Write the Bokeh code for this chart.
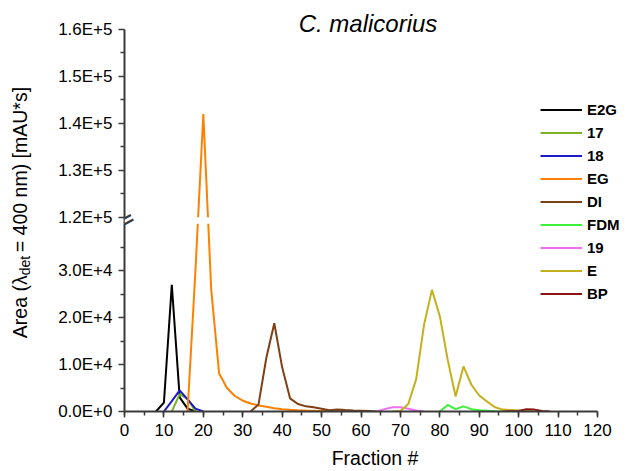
import math
from bokeh.plotting import figure
from bokeh.layouts import row
from bokeh.models import (Range1d, FixedTicker, SingleIntervalTicker, CustomJSTickFormatter,
                          CustomJSTransform, ColumnDataSource, Legend, LegendItem, Label,
                          BoxAnnotation)
from bokeh.transform import transform
from bokeh.embed import file_html
from bokeh.resources import INLINE

# ---------------- data ----------------
TITLE = "C. malicorius"
X_LABEL = "Fraction #"
Y_LABEL_PARTS = ["Area (\u03bb", "det", " = 400 nm) [mAU*s]"]

E2G_X = [8, 10, 12, 14, 16, 18]
E2G_Y = [0, 1900, 27000, 3000, 600, 0]

S17_X = [12, 14, 16, 18]
S17_Y = [0, 3700, 2700, 0]

S18_X = [10, 12, 14, 16, 18, 20]
S18_Y = [0, 2200, 4500, 2600, 600, 0]

EG_X = [16, 18, 20, 22, 24, 26, 28, 30, 32, 34, 36, 38, 40, 42, 44, 46, 48, 50, 52, 54, 56, 58]
EG_Y = [0, 30000, 142000, 26000, 8100, 5000, 3300, 2300, 1700, 1300, 1000, 700, 500, 380,
        280, 200, 150, 100, 80, 50, 30, 0]

DI_X = [32, 34, 36, 38, 40, 42, 44, 46, 48, 50, 52, 54, 56, 58, 60, 62, 64]
DI_Y = [0, 1500, 11500, 18800, 9400, 2800, 1600, 1100, 900, 600, 250, 450, 300, 200, 150, 100, 0]

FDM_X = [80, 82, 84, 86, 88, 90, 92, 94, 96]
FDM_Y = [0, 1400, 500, 1100, 500, 250, 150, 50, 0]

S19_X = [64, 66, 68, 70, 72, 74, 76]
S19_Y = [0, 500, 900, 900, 600, 200, 0]

E_X = [68, 70, 72, 74, 76, 78, 80, 82, 84, 86, 88, 90, 92, 94, 96, 98, 100, 102, 104]
E_Y = [0, 100, 1600, 6900, 18500, 25900, 20300, 11000, 3200, 9600, 5700, 3400, 2100, 900,
       400, 300, 200, 100, 0]

BP_X = [96, 98, 100, 102, 104, 106, 108]
BP_Y = [0, 50, 100, 500, 400, 100, 0]

SERIES_NAMES = ["E2G", "17", "18", "EG", "DI", "FDM", "19", "E", "BP"]
SERIES_COLORS = ["#000000", "#7db228", "#1a1ac8", "#ff8000", "#7f4016", "#3cf03c",
                 "#ee70ee", "#c4b01c", "#8c1414"]

Y_TICK_VALUES = [0, 10000, 20000, 30000, 120000, 130000, 140000, 150000, 160000]
Y_TICK_LABELS = ["0.0E+0", "1.0E+4", "2.0E+4", "3.0E+4", "1.2E+5", "1.3E+5", "1.4E+5",
                 "1.5E+5", "1.6E+5"]
Y_MINOR_VALUES = [5000, 15000, 25000, 35000, 125000, 135000, 145000, 155000]

# axis break
BREAK_LO = 40000
BREAK_HI = 120000
BREAK_GAP = 1340
Y_TOP = 160000
X_MIN, X_MAX = 0, 120


def brk(v):
    if v <= BREAK_LO:
        return v
    if v >= BREAK_HI:
        return v - BREAK_HI + BREAK_LO + BREAK_GAP
    return BREAK_LO + (v - BREAK_LO) * BREAK_GAP / (BREAK_HI - BREAK_LO)


FONT = "Liberation Sans"
AXIS_COLOR = "#3a3a3a"

# ---------------- layout geometry ----------------
LABEL_W = 40            # width of the strip that carries the y-axis title
TOTAL_W, TOTAL_H = 625, 471
FRAME_LEFT = 124        # px from page left
AXIS_RIGHT = 597        # px where x = 120
AXIS_TOP = 29           # px where y = 1.6E+5
AXIS_BOTTOM = 411       # px where y = 0
BOTTOM_BORDER = TOTAL_H - AXIS_BOTTOM

x_per_px = (X_MAX - X_MIN) / (AXIS_RIGHT - FRAME_LEFT)
y_per_px = brk(Y_TOP) / (AXIS_BOTTOM - AXIS_TOP)
x_end = X_MAX + (TOTAL_W - AXIS_RIGHT) * x_per_px
y_end = brk(Y_TOP) + AXIS_TOP * y_per_px

p = figure(width=TOTAL_W - LABEL_W, height=TOTAL_H, output_backend="svg",
           toolbar_location=None,
           x_range=Range1d(X_MIN, x_end), y_range=Range1d(0, y_end),
           min_border_left=FRAME_LEFT - LABEL_W, min_border_right=0, min_border_top=0,
           min_border_bottom=BOTTOM_BORDER)
p.outline_line_color = None
p.xgrid.grid_line_color = None
p.ygrid.grid_line_color = None
p.background_fill_color = "white"
p.border_fill_color = "white"

tr = CustomJSTransform(args=dict(lo=BREAK_LO, hi=BREAK_HI, gap=BREAK_GAP), v_func="""
    return xs.map(v => v <= lo ? v : (v >= hi ? v - hi + lo + gap : lo + (v - lo) * gap / (hi - lo)));
""")

all_x = [E2G_X, S17_X, S18_X, EG_X, DI_X, FDM_X, S19_X, E_X, BP_X]
all_y = [E2G_Y, S17_Y, S18_Y, EG_Y, DI_Y, FDM_Y, S19_Y, E_Y, BP_Y]

renderers = []
for xs, ys, col in zip(all_x, all_y, SERIES_COLORS):
    src = ColumnDataSource(dict(x=xs, y=ys))
    r = p.line(x="x", y=transform("y", tr), source=src, line_color=col, line_width=2)
    renderers.append(r)

# white gap at the axis break
gap_box = BoxAnnotation(bottom=BREAK_LO, top=BREAK_LO + BREAK_GAP, fill_color="white",
                        fill_alpha=1.0, line_alpha=0)
p.add_layout(gap_box)

# break mark on the axis
p.add_layout(Label(x=X_MIN, y=BREAK_LO + BREAK_GAP / 2, text="=", text_align="center",
                   text_baseline="middle", angle=0.5, text_font="DejaVu Sans",
                   text_font_size="26px", text_color=AXIS_COLOR))

# legend
legend = Legend(items=[LegendItem(label=n, renderers=[r]) for n, r in zip(SERIES_NAMES, renderers)],
                location=(416, 106), glyph_width=42, glyph_height=23, label_height=23,
                spacing=0, padding=0, margin=0, label_standoff=5,
                border_line_color=None, background_fill_alpha=0,
                label_text_font=FONT, label_text_font_style="bold",
                label_text_font_size="15px", label_text_color="black")
p.add_layout(legend, "center")

# x axis
xa = p.xaxis[0]
xa.bounds = (X_MIN, X_MAX)
xa.ticker = SingleIntervalTicker(interval=10, num_minor_ticks=2)
xa.axis_label = X_LABEL
xa.axis_label_text_font = FONT
xa.axis_label_text_font_style = "normal"
xa.axis_label_text_font_size = "19.5px"
xa.axis_label_text_color = "black"
xa.axis_label_standoff = 8
xa.major_label_text_font = FONT
xa.major_label_text_font_size = "17px"
xa.major_label_text_color = "black"
xa.major_label_standoff = 6

# y axis
ya = p.yaxis[0]
ya.bounds = (0, brk(Y_TOP))
ya.ticker = FixedTicker(ticks=[brk(v) for v in Y_TICK_VALUES],
                        minor_ticks=[brk(v) for v in Y_MINOR_VALUES])
ya.formatter = CustomJSTickFormatter(args=dict(pos=[brk(v) for v in Y_TICK_VALUES],
                                               labs=Y_TICK_LABELS), code="""
    const i = pos.findIndex(q => Math.abs(q - tick) < 1);
    return i >= 0 ? labs[i] : "";
""")
ya.axis_label = None
ya.major_label_text_font = FONT
ya.major_label_text_font_size = "17px"
ya.major_label_text_color = "black"
ya.major_label_standoff = 6

for ax in (xa, ya):
    ax.axis_line_color = AXIS_COLOR
    ax.axis_line_width = 2
    ax.major_tick_line_color = AXIS_COLOR
    ax.major_tick_line_width = 1.5
    ax.minor_tick_line_color = AXIS_COLOR
    ax.minor_tick_line_width = 1.5
    ax.major_tick_in = 0
    ax.major_tick_out = 6
    ax.minor_tick_in = 0
    ax.minor_tick_out = 4

# title
p.add_layout(Label(x=(X_MIN + X_MAX) / 2, x_offset=7, y=brk(Y_TOP) + 6 * y_per_px,
                   text=TITLE, text_align="center", text_baseline="alphabetic",
                   text_font=FONT, text_font_style="italic", text_font_size="24px",
                   text_color="black"))

# ---------------- y-axis title strip (pixel coordinates, y down) ----------------
yl = figure(width=LABEL_W, height=TOTAL_H, output_backend="svg", toolbar_location=None,
            x_range=Range1d(0, LABEL_W), y_range=Range1d(TOTAL_H, 0),
            min_border=0, x_axis_location=None, y_axis_location=None)
yl.outline_line_color = None
yl.xgrid.grid_line_color = None
yl.ygrid.grid_line_color = None
yl.border_fill_color = "white"

YL_X = 19
YL_Y = 387
yl.add_layout(Label(x=YL_X, y=YL_Y, text=Y_LABEL_PARTS[0], angle=math.pi / 2,
                    text_align="left", text_baseline="alphabetic", text_font=FONT,
                    text_font_size="19.5px", text_color="black"))
yl.add_layout(Label(x=YL_X, y=YL_Y, x_offset=5, y_offset=63, text=Y_LABEL_PARTS[1],
                    angle=math.pi / 2, text_align="left", text_baseline="alphabetic",
                    text_font=FONT, text_font_size="14px", text_color="black"))
yl.add_layout(Label(x=YL_X, y=YL_Y, y_offset=86, text=Y_LABEL_PARTS[2],
                    angle=math.pi / 2, text_align="left", text_baseline="alphabetic",
                    text_font=FONT, text_font_size="19.5px", text_color="black"))

layout = row(yl, p, spacing=0)
open("out.html", "w").write(file_html(layout, INLINE))
